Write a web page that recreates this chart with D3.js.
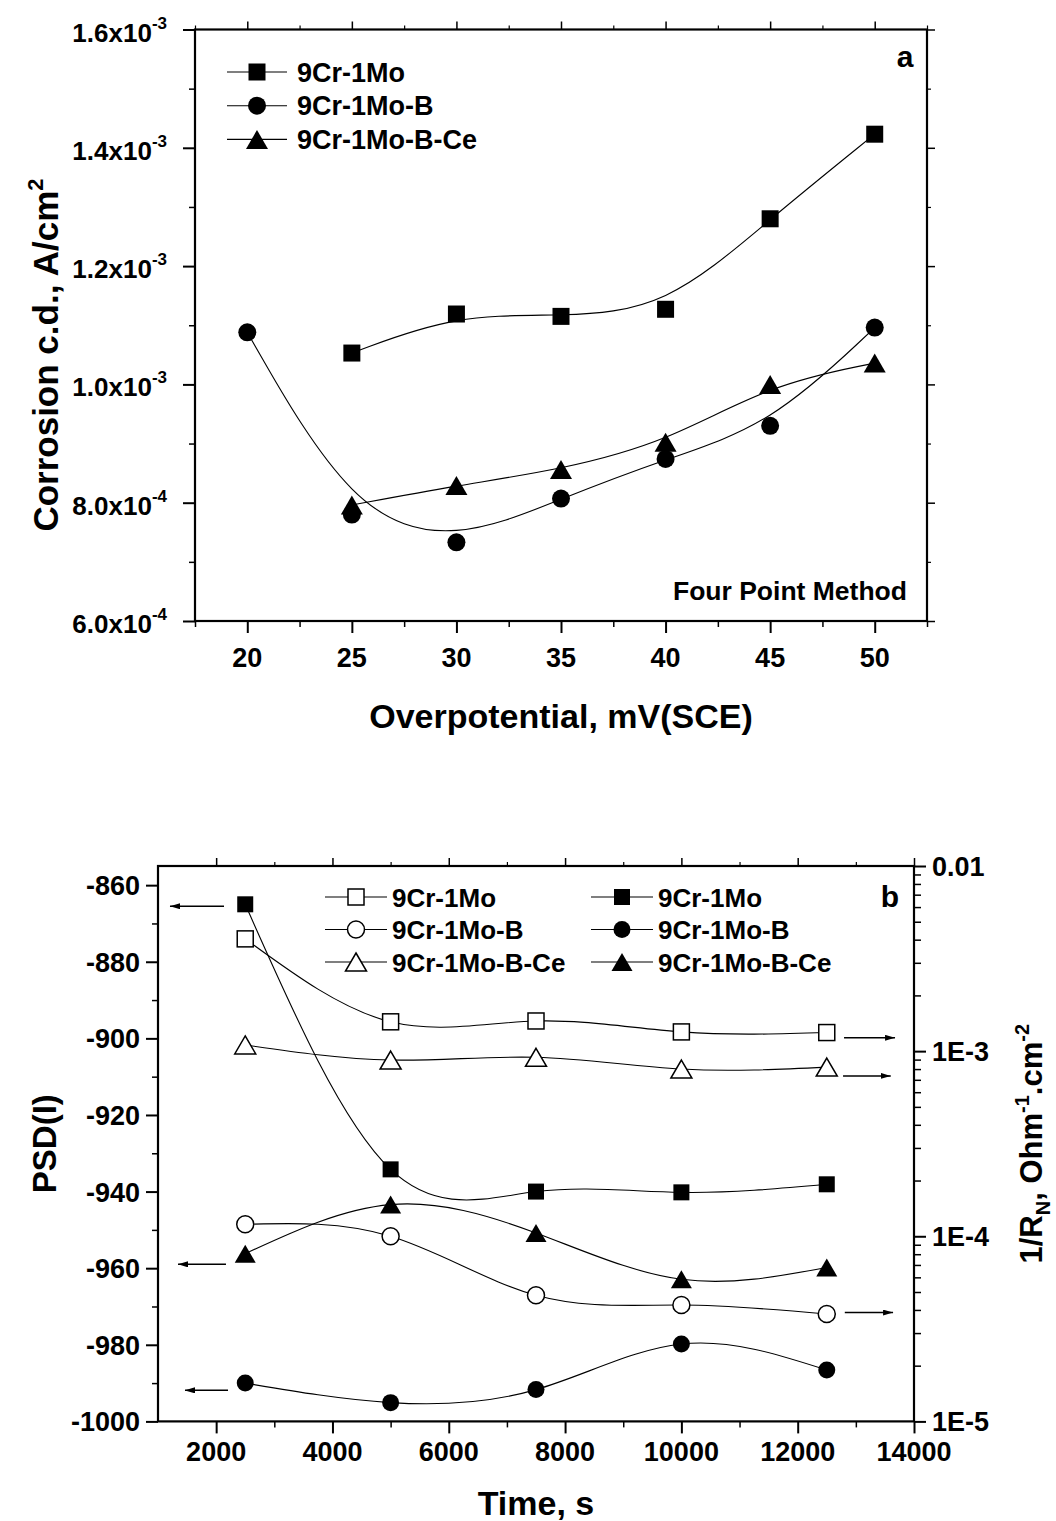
<!DOCTYPE html>
<html>
<head>
<meta charset="utf-8">
<script src="https://cdn.jsdelivr.net/npm/d3@7"></script>
<style>
  body { margin: 0; background: #fff; }
  svg text { font-family: "Liberation Sans", Arial, sans-serif; font-weight: bold; fill: #000; }
</style>
</head>
<body>
<svg id="fig" width="1056" height="1521"></svg>
<script>
// ---------- Panel a: corrosion current density vs overpotential (four point method) ----------
const overpotential = [20, 25, 30, 35, 40, 45, 50];
const cd_9Cr1Mo     = [null, 1.053e-3, 1.119e-3, 1.115e-3, 1.127e-3, 1.280e-3, 1.423e-3];
const cd_9Cr1MoB    = [1.088e-3, 0.780e-3, 0.733e-3, 0.807e-3, 0.874e-3, 0.930e-3, 1.096e-3];
const cd_9Cr1MoBCe  = [null, 0.796e-3, 0.829e-3, 0.856e-3, 0.902e-3, 1.000e-3, 1.036e-3];
const namesA        = ["9Cr-1Mo", "9Cr-1Mo-B", "9Cr-1Mo-B-Ce"];
const xTicksA       = [20, 25, 30, 35, 40, 45, 50];
const yTicksA       = [6e-4, 8e-4, 1.0e-3, 1.2e-3, 1.4e-3, 1.6e-3];

// ---------- Panel b: PSD(I) (filled, left) and 1/RN (open, right, log) vs time ----------
const time          = [2500, 5000, 7500, 10000, 12500];
const rn_9Cr1Mo     = [4.04e-3, 1.44e-3, 1.455e-3, 1.27e-3, 1.26e-3];
const rn_9Cr1MoB    = [1.16e-4, 1.00e-4, 4.8e-5, 4.25e-5, 3.8e-5];
const rn_9Cr1MoBCe  = [1.08e-3, 0.895e-3, 0.926e-3, 0.80e-3, 0.82e-3];
const psd_9Cr1Mo    = [-865.0, -934.2, -940.0, -940.2, -938.1];
const psd_9Cr1MoB   = [-990.0, -995.1, -991.7, -979.8, -986.6];
const psd_9Cr1MoBCe = [-956.2, -943.4, -950.8, -962.9, -959.8];
const namesB        = ["9Cr-1Mo", "9Cr-1Mo-B", "9Cr-1Mo-B-Ce"];
const xTicksB       = [2000, 4000, 6000, 8000, 10000, 12000, 14000];
const yTicksBLeft   = [-1000, -980, -960, -940, -920, -900, -880, -860];
const yTicksBRight  = [1e-5, 1e-4, 1e-3, 1e-2];
const yLabelsBRight = ["1E-5", "1E-4", "1E-3", "0.01"];

// arrows pointing each curve to its axis: [time from, time to, value, axis]
const arrowsB = [
  [2135, 1206, -865.5, "left"],
  [2169, 1344, -959.0, "left"],
  [2204, 1464, -991.9, "left"],
  [12797, 13674, 1.18e-3, "right"],
  [12780, 13600, 7.35e-4, "right"],
  [12810, 13640, 3.87e-5, "right"]
];

const svg = d3.select("#fig");
const defs = svg.append("defs");
defs.append("marker").attr("id", "ah").attr("viewBox", "0 0 10 6")
  .attr("refX", 10).attr("refY", 3).attr("markerWidth", 10).attr("markerHeight", 6)
  .attr("markerUnits", "userSpaceOnUse").attr("orient", "auto")
  .append("path").attr("d", "M0,0 L10,3 L0,6 Z").attr("fill", "#000");

// ---------- helpers ----------
function marker(g, shape, filled, x, y, s) {
  const fill = filled ? "#000" : "#fff";
  const sw = filled ? 0 : 1.5;
  if (shape === "square") {
    g.append("rect").attr("x", x - s.sq / 2).attr("y", y - s.sq / 2)
      .attr("width", s.sq).attr("height", s.sq)
      .attr("fill", fill).attr("stroke", "#000").attr("stroke-width", sw);
  } else if (shape === "circle") {
    g.append("circle").attr("cx", x).attr("cy", y).attr("r", s.ci / 2)
      .attr("fill", fill).attr("stroke", "#000").attr("stroke-width", sw);
  } else {
    const w = s.tw, h = s.th;
    g.append("path")
      .attr("d", `M${x},${y - h / 2}L${x + w / 2},${y + h / 2}L${x - w / 2},${y + h / 2}Z`)
      .attr("fill", fill).attr("stroke", "#000").attr("stroke-width", sw);
  }
}

function tickGroup(g, axisFn, scale, values, size, sw, transform) {
  const a = g.append("g").attr("transform", transform)
    .call(axisFn(scale).tickValues(values).tickSize(size).tickFormat(""));
  a.select(".domain").remove();
  a.selectAll("line").attr("stroke", "#000").attr("stroke-width", sw);
  return a;
}

// ======================= Panel a =======================
const A = { l: 195, r: 927, t: 29.5, b: 621 };
const xA = d3.scaleLinear().domain([17.5, 52.5]).range([A.l, A.r]);
const yA = d3.scaleLinear().domain([6e-4, 1.6e-3]).range([A.b, A.t]);
const gA = svg.append("g");

const minorXA = d3.range(17.5, 52.6, 5);
const minorYA = [7e-4, 9e-4, 1.1e-3, 1.3e-3, 1.5e-3];
tickGroup(gA, d3.axisBottom, xA, xTicksA, 12, 2, `translate(0,${A.b})`);
tickGroup(gA, d3.axisBottom, xA, minorXA, 6, 1.5, `translate(0,${A.b})`);
tickGroup(gA, d3.axisTop, xA, xTicksA, 8, 1.5, `translate(0,${A.t})`);
tickGroup(gA, d3.axisTop, xA, minorXA, 4, 1.2, `translate(0,${A.t})`);
tickGroup(gA, d3.axisLeft, yA, yTicksA, 12, 2, `translate(${A.l},0)`);
tickGroup(gA, d3.axisLeft, yA, minorYA, 6, 1.5, `translate(${A.l},0)`);
tickGroup(gA, d3.axisRight, yA, yTicksA, 8, 1.5, `translate(${A.r},0)`);
tickGroup(gA, d3.axisRight, yA, minorYA, 4, 1.2, `translate(${A.r},0)`);
gA.append("rect").attr("x", A.l).attr("y", A.t).attr("width", A.r - A.l).attr("height", A.b - A.t)
  .attr("fill", "none").attr("stroke", "#000").attr("stroke-width", 2.2);

// tick labels
xTicksA.forEach(v => {
  gA.append("text").attr("x", xA(v)).attr("y", 667).attr("text-anchor", "middle")
    .attr("font-size", 27).text(v);
});
yTicksA.forEach(v => {
  const exp = Math.floor(Math.log10(v) + 1e-9);
  const man = (v / Math.pow(10, exp)).toFixed(1);
  const t = gA.append("text").attr("x", 167).attr("y", yA(v) + 12).attr("text-anchor", "end")
    .attr("font-size", 26);
  t.append("tspan").text(man + "x10");
  t.append("tspan").attr("font-size", 17).attr("dy", -13).text(exp);
});

// axis titles
gA.append("text").attr("x", (A.l + A.r) / 2).attr("y", 728).attr("text-anchor", "middle")
  .attr("font-size", 34).text("Overpotential, mV(SCE)");
{
  const t = gA.append("text").attr("transform", "translate(58,355) rotate(-90)")
    .attr("text-anchor", "middle").attr("font-size", 35);
  t.append("tspan").text("Corrosion c.d., A/cm");
  t.append("tspan").attr("font-size", 22).attr("dy", -15).text("2");
}
gA.append("text").attr("x", 905).attr("y", 67).attr("text-anchor", "middle").attr("font-size", 30).text("a");
gA.append("text").attr("x", 907).attr("y", 600).attr("text-anchor", "end").attr("font-size", 26.5).text("Four Point Method");

// data
const sizeA = { sq: 17, ci: 18, tw: 22, th: 19 };
const seriesA = [
  { name: namesA[0], vals: cd_9Cr1Mo, shape: "square" },
  { name: namesA[1], vals: cd_9Cr1MoB, shape: "circle" },
  { name: namesA[2], vals: cd_9Cr1MoBCe, shape: "triangle" }
];
const lineA = d3.line().curve(d3.curveBasis).x(d => xA(d[0])).y(d => yA(d[1]));
seriesA.forEach(s => {
  const pts = overpotential.map((x, i) => [x, s.vals[i]]).filter(d => d[1] != null);
  gA.append("path").attr("d", lineA(pts)).attr("fill", "none").attr("stroke", "#000").attr("stroke-width", 1.1);
});
seriesA.forEach(s => {
  overpotential.forEach((x, i) => {
    if (s.vals[i] != null) marker(gA, s.shape, true, xA(x), yA(s.vals[i]), sizeA);
  });
});

// legend
seriesA.forEach((s, i) => {
  const y = 72 + i * 33.7;
  gA.append("line").attr("x1", 227).attr("x2", 287).attr("y1", y).attr("y2", y)
    .attr("stroke", "#000").attr("stroke-width", 1.1);
  marker(gA, s.shape, true, 257, y, sizeA);
  gA.append("text").attr("x", 297).attr("y", y + 9.5).attr("font-size", 27).text(s.name);
});

// ======================= Panel b =======================
const B = { l: 158, r: 914, t: 866, b: 1421.4 };
const xB = d3.scaleLinear().domain([1000, 14000]).range([B.l, B.r]);
const yBL = d3.scaleLinear().domain([-1000, -855]).range([B.b, B.t]);
const yBR = d3.scaleLog().domain([1e-5, 1e-2]).range([B.b, B.t]);
const gB = svg.append("g");

const minorXB = d3.range(3000, 14000, 2000);
const minorYBL = d3.range(-990, -855, 20);
const minorYBR = [];
[1e-5, 1e-4, 1e-3].forEach(d => { for (let k = 2; k <= 9; k++) minorYBR.push(d * k); });

tickGroup(gB, d3.axisBottom, xB, xTicksB, 12, 2, `translate(0,${B.b})`);
tickGroup(gB, d3.axisBottom, xB, minorXB, 6, 1.5, `translate(0,${B.b})`);
tickGroup(gB, d3.axisTop, xB, xTicksB, 8, 1.5, `translate(0,${B.t})`);
tickGroup(gB, d3.axisTop, xB, minorXB, 4, 1.2, `translate(0,${B.t})`);
tickGroup(gB, d3.axisLeft, yBL, yTicksBLeft, 12, 2, `translate(${B.l},0)`);
tickGroup(gB, d3.axisLeft, yBL, minorYBL, 6, 1.5, `translate(${B.l},0)`);
tickGroup(gB, d3.axisRight, yBR, yTicksBRight, 12, 2, `translate(${B.r},0)`);
tickGroup(gB, d3.axisRight, yBR, minorYBR, 7, 1.5, `translate(${B.r},0)`);
gB.append("rect").attr("x", B.l).attr("y", B.t).attr("width", B.r - B.l).attr("height", B.b - B.t)
  .attr("fill", "none").attr("stroke", "#000").attr("stroke-width", 2.2);

xTicksB.forEach(v => {
  gB.append("text").attr("x", xB(v)).attr("y", 1461).attr("text-anchor", "middle")
    .attr("font-size", 27).text(v);
});
yTicksBLeft.forEach(v => {
  gB.append("text").attr("x", 140).attr("y", yBL(v) + 10).attr("text-anchor", "end")
    .attr("font-size", 27).text(v);
});
yTicksBRight.forEach((v, i) => {
  gB.append("text").attr("x", 932).attr("y", yBR(v) + 10).attr("text-anchor", "start")
    .attr("font-size", 27).text(yLabelsBRight[i]);
});

gB.append("text").attr("x", (B.l + B.r) / 2).attr("y", 1515).attr("text-anchor", "middle")
  .attr("font-size", 34).text("Time, s");
gB.append("text").attr("transform", `translate(56,${(B.t + B.b) / 2}) rotate(-90)`)
  .attr("text-anchor", "middle").attr("font-size", 33).text("PSD(I)");
{
  const t = gB.append("text").attr("transform", `translate(1042,${(B.t + B.b) / 2}) rotate(-90)`)
    .attr("text-anchor", "middle").attr("font-size", 31);
  t.append("tspan").text("1/R");
  t.append("tspan").attr("font-size", 20).attr("dy", 8).text("N");
  t.append("tspan").attr("dy", -8).text(", Ohm");
  t.append("tspan").attr("font-size", 20).attr("dy", -13).text("-1");
  t.append("tspan").attr("dy", 13).text(".cm");
  t.append("tspan").attr("font-size", 20).attr("dy", -13).text("-2");
}
gB.append("text").attr("x", 890).attr("y", 907).attr("text-anchor", "middle").attr("font-size", 30).text("b");

const sizeB = { sq: 16, ci: 17, tw: 21, th: 18 };
const seriesB = [
  { name: namesB[0], vals: rn_9Cr1Mo, shape: "square", filled: false, y: yBR },
  { name: namesB[1], vals: rn_9Cr1MoB, shape: "circle", filled: false, y: yBR },
  { name: namesB[2], vals: rn_9Cr1MoBCe, shape: "triangle", filled: false, y: yBR },
  { name: namesB[0], vals: psd_9Cr1Mo, shape: "square", filled: true, y: yBL },
  { name: namesB[1], vals: psd_9Cr1MoB, shape: "circle", filled: true, y: yBL },
  { name: namesB[2], vals: psd_9Cr1MoBCe, shape: "triangle", filled: true, y: yBL }
];
seriesB.forEach(s => {
  const ln = d3.line().curve(d3.curveNatural).x(d => xB(d[0])).y(d => s.y(d[1]));
  gB.append("path").attr("d", ln(time.map((t, i) => [t, s.vals[i]])))
    .attr("fill", "none").attr("stroke", "#000").attr("stroke-width", 1.1);
});
seriesB.forEach(s => {
  time.forEach((t, i) => marker(gB, s.shape, s.filled, xB(t), s.y(s.vals[i]), sizeB));
});

arrowsB.forEach(a => {
  const ys = a[3] === "left" ? yBL(a[2]) : yBR(a[2]);
  gB.append("line").attr("x1", xB(a[0])).attr("x2", xB(a[1])).attr("y1", ys).attr("y2", ys)
    .attr("stroke", "#000").attr("stroke-width", 1.5).attr("marker-end", "url(#ah)");
});

// legend, two columns: open symbols (1/RN) then filled (PSD)
seriesB.forEach((s, i) => {
  const col = i < 3 ? 0 : 1;
  const row = i % 3;
  const y = 897 + row * 32.5;
  const x0 = col === 0 ? 325 : 591;
  gB.append("line").attr("x1", x0).attr("x2", x0 + 62).attr("y1", y).attr("y2", y)
    .attr("stroke", "#000").attr("stroke-width", 1.1);
  marker(gB, s.shape, s.filled, x0 + 31, y, sizeB);
  gB.append("text").attr("x", x0 + 67).attr("y", y + 9.5).attr("font-size", 26).text(s.name);
});
</script>
</body>
</html>
